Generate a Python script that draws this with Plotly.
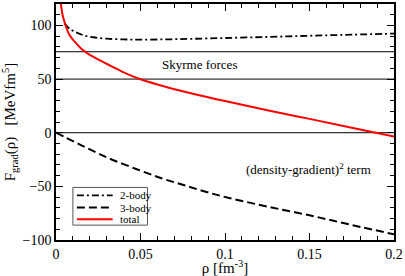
import plotly.graph_objects as go

# --- data ---
rho_two = [0.005, 0.008, 0.012, 0.016, 0.022, 0.03, 0.04, 0.05, 0.065, 0.08, 0.1, 0.125, 0.15, 0.175, 0.2]
two_body = [102, 97, 93.5, 91, 89, 87.7, 87, 86.8, 87, 87.5, 88.3, 89.3, 90.4, 91.4, 92.4]

rho_three = [0, 0.0106, 0.02, 0.0312, 0.0478, 0.0625, 0.075, 0.088, 0.1024, 0.125, 0.15, 0.175, 0.2]
three_body = [0, -8.3, -15.5, -23.8, -34, -42.5, -48.5, -54.8, -60.8, -68.8, -77, -86, -94.7]

rho_total = [0.0028, 0.004, 0.0057, 0.008, 0.011, 0.0155, 0.02, 0.026, 0.034, 0.042, 0.05, 0.06, 0.075, 0.09, 0.1, 0.125, 0.15, 0.175, 0.2]
total = [121, 109, 100, 91, 85, 77.5, 72.5, 67.5, 61, 54.9, 49.8, 44.9, 38.6, 33, 29.5, 21, 12.9, 4.7, -3.5]

ref_levels = [75.5, 50, 0]

series_names = ["2-body", "3-body", "total"]
series_colors = ["black", "black", "#ff0000"]
series_dash = ["7px,3px,2px,3px", "8px,4px", "solid"]
series_width = [1.8, 2, 2]

annot_texts = ["Skyrme forces", "(density-gradient)<sup>2</sup> term"]
annot_x = [0.0847, 0.1494]
annot_y = [64, -34]

SERIF = "Liberation Serif"

fig = go.Figure()
for rx, vals, i in [(rho_two, two_body, 0), (rho_three, three_body, 1), (rho_total, total, 2)]:
    fig.add_trace(go.Scatter(x=rx, y=vals, mode="lines", name=series_names[i],
                             line=dict(color=series_colors[i], width=series_width[i],
                                       dash=series_dash[i], shape="spline")))

for lv in ref_levels:
    fig.add_hline(y=lv, line=dict(color="black", width=1), layer="below")

for t, ax, ay in zip(annot_texts, annot_x, annot_y):
    fig.add_annotation(x=ax, y=ay, text=t, showarrow=False,
                       font=dict(family=SERIF, size=13, color="black"))

# --- compact legend drawn in paper coordinates ---
leg_box = dict(x0=0.05, x1=0.2706, y0=0.063, y1=0.2227)
leg_rows = [0.189, 0.1374, 0.0882]
fig.add_shape(type="rect", xref="paper", yref="paper", **leg_box,
              line=dict(color="#555", width=1), fillcolor="white", layer="above")
for i, ry in enumerate(leg_rows):
    fig.add_shape(type="line", xref="paper", yref="paper", x0=0.0618, x1=0.1676, y0=ry, y1=ry,
                  line=dict(color=series_colors[i], width=series_width[i], dash=series_dash[i]),
                  layer="above")
    fig.add_annotation(xref="paper", yref="paper", x=0.1824, y=ry, xanchor="left", yanchor="middle",
                       text=series_names[i], showarrow=False,
                       font=dict(family=SERIF, size=11, color="black"))

axis_common = dict(showline=True, linecolor="black", linewidth=1.5, mirror="ticks",
                   ticks="inside", ticklen=7, tickwidth=1, tickcolor="black",
                   showgrid=False, zeroline=False,
                   tickfont=dict(family=SERIF, size=14, color="black"))

fig.update_xaxes(range=[0, 0.2], dtick=0.05, tick0=0,
                 minor=dict(ticks="inside", ticklen=4, dtick=0.01, tickcolor="black", showgrid=False),
                 title=dict(text="ρ [fm<sup>-3</sup>]", font=dict(family=SERIF, size=15, color="black"), standoff=0),
                 **axis_common)
fig.update_yaxes(range=[-100, 120], dtick=50, tick0=0,
                 minor=dict(ticks="inside", ticklen=4, dtick=10, tickcolor="black", showgrid=False),
                 title=dict(text="F<sub>grad</sub>(ρ)   [MeVfm<sup>5</sup>]", font=dict(family=SERIF, size=15, color="black"), standoff=6),
                 **axis_common)

fig.update_layout(
    width=405, height=276,
    margin=dict(l=56, r=9, t=2, b=36),
    paper_bgcolor="white", plot_bgcolor="white",
    showlegend=False,
)

fig.write_html("out.html", config={"displayModeBar": False},
               post_script="document.body.style.margin='0';document.body.style.padding='0';")
